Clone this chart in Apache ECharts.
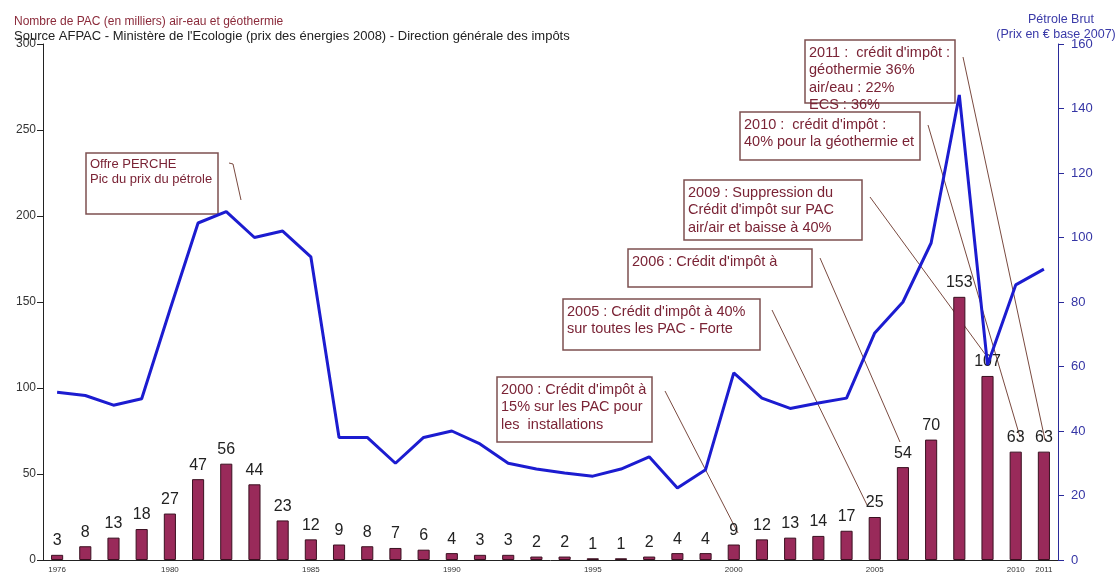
<!DOCTYPE html>
<html>
<head>
<meta charset="utf-8">
<script src="https://cdn.jsdelivr.net/npm/echarts@6/dist/echarts.min.js"></script>
<style>
html,body{margin:0;padding:0;background:#fff;}
#c{width:1117px;height:576px;}
</style>
</head>
<body>
<div id="c"></div>
<script>
const years = ['1976','1977','1978','1979','1980','1981','1982','1983','1984','1985','1986','1987','1988','1989','1990','1991','1992','1993','1994','1995','1996','1997','1998','1999','2000','2001','2002','2003','2004','2005','2006','2007','2008','2009','2010','2011'];
const pacCount = [3,8,13,18,27,47,56,44,23,12,9,8,7,6,4,3,3,2,2,1,1,2,4,4,9,12,13,14,17,25,54,70,153,107,63,63];
const oilPrice = [52,51,48,50,77.5,104.5,108,100,102,94,38,38,30,38,40,36,30,28.2,27,26,28.2,32,22.3,28,58,50.2,47,48.7,50.2,70.4,80,98.3,144.2,60.5,85.3,90.2];
const shownYearLabels = ['1976','1980','1985','1990','1995','2000','2005','2010','2011'];

const FONT = '"Liberation Sans", Arial, sans-serif';
const TXT = '#7a2335';
const BORDER = '#7d5050';

function box(x, y, w, h, lines, fs, lh) {
  return {
    type: 'group',
    children: [
      {type:'rect', shape:{x:x, y:y, width:w, height:h}, style:{fill:'#fff', stroke:BORDER, lineWidth:1.5}},
      {type:'text', x:x+4, y:y+4, style:{text:lines.join('\n'), fill:TXT, font: fs+'px '+FONT, lineHeight: lh}}
    ]
  };
}
function lead(points) {
  return {type:'polyline', shape:{points:points}, style:{stroke:'#7a4a40', lineWidth:1, fill:null}};
}

const chart = echarts.init(document.getElementById('c'));
chart.setOption({
  animation:false,
  backgroundColor:'#fff',
  grid:{left:43, right:59, top:44, bottom:16},
  xAxis:{
    type:'category', data:years,
    axisLine:{lineStyle:{color:'#222', width:1}},
    axisTick:{interval:0, length:4, lineStyle:{color:'#222'}},
    axisLabel:{
      interval:0, margin:6, fontSize:8, color:'#333', fontFamily:FONT,
      formatter:function(v){ return shownYearLabels.indexOf(v) >= 0 ? v : ''; }
    }
  },
  yAxis:[
    {type:'value', min:0, max:300, interval:50, position:'left',
     axisLine:{show:true, lineStyle:{color:'#222'}},
     axisTick:{show:true, length:6, lineStyle:{color:'#222'}},
     splitLine:{show:false},
     axisLabel:{fontSize:12, color:'#333', fontFamily:FONT, margin:7}},
    {type:'value', min:0, max:160, interval:20, position:'right',
     axisLine:{show:true, lineStyle:{color:'#2a2a9a'}},
     axisTick:{show:true, length:6, lineStyle:{color:'#2a2a9a'}},
     splitLine:{show:false},
     axisLabel:{fontSize:13, color:'#3535a5', fontFamily:FONT, margin:13}}
  ],
  title:[
    {text:'Nombre de PAC (en milliers) air-eau et géothermie', left:9, top:11,
     textStyle:{fontSize:12, fontWeight:'normal', color:'#8b2a3a', fontFamily:FONT}},
    {text:"Source AFPAC - Ministère de l'Ecologie (prix des énergies 2008) - Direction générale des impôts", left:9, top:25,
     textStyle:{fontSize:13, fontWeight:'normal', color:'#222', fontFamily:FONT}},
    {text:'Pétrole Brut', left:1056, top:8, textAlign:'center',
     textStyle:{fontSize:12.5, fontWeight:'normal', color:'#3a3aa8', fontFamily:FONT}},
    {text:'(Prix en € base 2007)', left:1051, top:23, textAlign:'center',
     textStyle:{fontSize:12.5, fontWeight:'normal', color:'#3a3aa8', fontFamily:FONT}}
  ],
  series:[
    {type:'bar', data:pacCount, yAxisIndex:0, barWidth:'43%',
     itemStyle:{color:'#992a5a', borderColor:'#3a1020', borderWidth:1},
     label:{show:true, position:'top', distance:6, fontSize:16, color:'#222', fontFamily:FONT},
     z:2},
    {type:'line', data:oilPrice, yAxisIndex:1, symbol:'none',
     lineStyle:{color:'#1c1cd0', width:3}, z:3}
  ],
  graphic:[
    lead([[229,163],[233,164],[241,200]]),
    lead([[665,391],[738,533]]),
    lead([[772,310],[868,507]]),
    lead([[820,258],[900,442]]),
    lead([[870,197],[988,358]]),
    lead([[928,125],[1020,437]]),
    lead([[963,57],[1045,440]]),
    box(86,153,132,61,['Offre PERCHE','Pic du prix du pétrole'],13,15),
    box(497,377,155,65,["2000 : Crédit d'impôt à",'15% sur les PAC pour','les  installations'],14.5,17.5),
    box(563,299,197,51,["2005 : Crédit d'impôt à 40%",'sur toutes les PAC - Forte'],14.5,17.5),
    box(628,249,184,38,["2006 : Crédit d'impôt à"],14.5,17.5),
    box(684,180,178,60,['2009 : Suppression du',"Crédit d'impôt sur PAC",'air/air et baisse à 40%'],14.5,17.5),
    box(805,40,150,63,["2011 :  crédit d'impôt :",'géothermie 36%','air/eau : 22%','ECS : 36%'],14.5,17.5),
    box(740,112,180,48,["2010 :  crédit d'impôt :",'40% pour la géothermie et'],14.5,17.5)
  ]
});
</script>
</body>
</html>
